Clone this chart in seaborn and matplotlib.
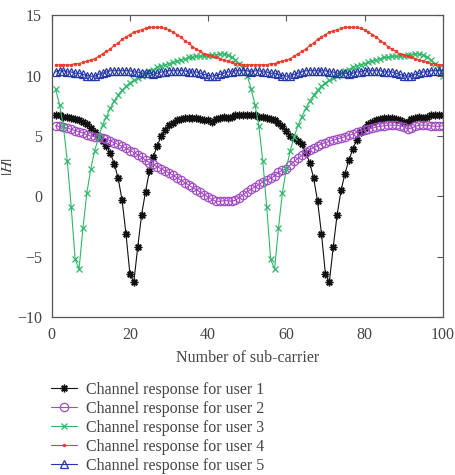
import numpy as np
import pandas as pd
import seaborn as sns
import matplotlib.pyplot as plt

# sub-carrier index 1..100
subcarrier = list(range(1, 101))

user1 = [6.7, 6.7, 6.6, 6.6, 6.5, 6.4, 6.3, 6.2, 6.0, 5.7,
         5.3, 4.9, 4.6, 4.2, 3.6, 2.7, 1.5, -0.3, -3.1, -6.4,
         -7.1, -4.2, -1.5, 0.4, 2.1, 3.3, 4.2, 5.0, 5.5, 5.9,
         6.1, 6.3, 6.4, 6.5, 6.5, 6.5, 6.5, 6.4, 6.3, 6.3,
         6.2, 6.4, 6.5, 6.6, 6.5, 6.6, 6.7, 6.7, 6.7, 6.7,
         6.7, 6.7, 6.6, 6.6, 6.5, 6.4, 6.3, 6.1, 5.8, 5.4,
         5.0, 4.8, 4.6, 4.3, 3.6, 2.8, 1.5, -0.4, -3.1, -6.4,
         -7.1, -4.2, -1.5, 0.5, 1.9, 3.0, 3.9, 4.7, 5.3, 5.7,
         6.0, 6.2, 6.3, 6.4, 6.5, 6.5, 6.5, 6.4, 6.3, 6.2,
         6.2, 6.4, 6.5, 6.6, 6.5, 6.6, 6.7, 6.7, 6.7, 6.7]

user2 = [5.85, 5.8, 5.75, 5.65, 5.55, 5.45, 5.35, 5.25, 5.1, 5.0,
         4.95, 4.9, 4.85, 4.75, 4.6, 4.45, 4.3, 4.15, 4.0, 3.8,
         3.65, 3.45, 3.25, 3.0, 2.8, 2.65, 2.45, 2.3, 2.1, 1.95,
         1.75, 1.55, 1.35, 1.15, 0.95, 0.75, 0.55, 0.35, 0.15, -0.05,
         -0.25, -0.4, -0.4, -0.35, -0.35, -0.4, -0.3, -0.1, 0.15, 0.4,
         0.6, 0.8, 1.0, 1.2, 1.35, 1.5, 1.7, 2.0, 2.15, 2.3,
         2.6, 2.9, 3.15, 3.4, 3.65, 3.85, 4.05, 4.2, 4.35, 4.45,
         4.55, 4.65, 4.75, 4.85, 4.95, 5.05, 5.15, 5.3, 5.4, 5.5,
         5.6, 5.65, 5.75, 5.8, 5.85, 5.9, 5.9, 5.9, 5.85, 5.75,
         5.6, 5.65, 5.8, 5.9, 5.9, 5.9, 5.85, 5.8, 5.8, 5.85]

user3 = [8.9, 7.6, 5.8, 2.9, -0.9, -5.2, -6.0, -2.6, 0.3, 2.3,
         3.8, 4.9, 5.9, 6.6, 7.3, 7.9, 8.4, 8.8, 9.1, 9.4,
         9.6, 9.8, 10.0, 10.2, 10.4, 10.5, 10.7, 10.8, 10.9, 11.0,
         11.1, 11.2, 11.3, 11.4, 11.5, 11.5, 11.6, 11.6, 11.6, 11.6,
         11.7, 11.7, 11.8, 11.8, 11.7, 11.5, 11.3, 11.0, 10.6, 10.0,
         8.9, 7.6, 5.8, 2.9, -0.9, -5.2, -6.0, -2.6, 0.3, 2.3,
         3.8, 4.9, 5.9, 6.6, 7.3, 7.9, 8.4, 8.8, 9.1, 9.4,
         9.6, 9.8, 10.0, 10.2, 10.4, 10.5, 10.7, 10.8, 10.9, 11.0,
         11.1, 11.2, 11.3, 11.4, 11.5, 11.5, 11.6, 11.6, 11.6, 11.6,
         11.7, 11.7, 11.8, 11.8, 11.7, 11.5, 11.3, 11.0, 10.6, 10.0]

user4 = [10.9, 10.9, 10.9, 10.9, 10.9, 11.0, 11.0, 11.1, 11.2, 11.3,
         11.4, 11.6, 11.8, 12.0, 12.2, 12.5, 12.7, 13.0, 13.2, 13.4,
         13.6, 13.7, 13.8, 13.9, 14.0, 14.0, 14.0, 14.0, 13.9, 13.8,
         13.6, 13.4, 13.2, 12.9, 12.7, 12.4, 12.2, 12.0, 11.8, 11.7,
         11.6, 11.5, 11.4, 11.3, 11.2, 11.1, 11.0, 11.0, 10.9, 10.9,
         10.9, 10.9, 10.9, 10.9, 10.9, 11.0, 11.0, 11.1, 11.2, 11.3,
         11.4, 11.6, 11.8, 12.0, 12.2, 12.5, 12.7, 13.0, 13.2, 13.4,
         13.6, 13.7, 13.8, 13.9, 14.0, 14.0, 14.0, 14.0, 13.9, 13.8,
         13.6, 13.4, 13.2, 12.9, 12.7, 12.4, 12.2, 12.0, 11.8, 11.7,
         11.6, 11.5, 11.4, 11.3, 11.2, 11.1, 11.0, 11.0, 10.9, 10.9]

user5 = [10.3, 10.4, 10.4, 10.3, 10.3, 10.2, 10.2, 10.1, 10.0, 9.95,
         9.95, 10.1, 10.2, 10.3, 10.4, 10.4, 10.4, 10.4, 10.4, 10.4,
         10.3, 10.3, 10.2, 10.2, 10.2, 10.1, 10.2, 10.3, 10.3, 10.4,
         10.4, 10.4, 10.4, 10.4, 10.3, 10.3, 10.3, 10.2, 10.1, 10.0,
         9.95, 10.0, 10.1, 10.2, 10.3, 10.3, 10.4, 10.4, 10.4, 10.4,
         10.3, 10.4, 10.4, 10.3, 10.3, 10.2, 10.2, 10.1, 10.0, 9.95,
         9.95, 10.1, 10.2, 10.3, 10.4, 10.4, 10.4, 10.4, 10.4, 10.4,
         10.3, 10.3, 10.2, 10.2, 10.2, 10.1, 10.2, 10.3, 10.3, 10.4,
         10.4, 10.4, 10.4, 10.4, 10.3, 10.3, 10.3, 10.2, 10.1, 10.0,
         9.95, 10.0, 10.1, 10.2, 10.3, 10.3, 10.4, 10.4, 10.4, 10.4]

labels = ["Channel response for user 1", "Channel response for user 2",
          "Channel response for user 3", "Channel response for user 4",
          "Channel response for user 5"]

series = [user1, user2, user3, user4, user5]
colors = ["#111111", "#a24bc4", "#2fb86a", "#ee3b2b", "#2536a8"]
styles = [
    dict(marker=(8, 2, 0), markersize=5.5, markeredgewidth=1.0),
    dict(marker="o", markersize=6, markerfacecolor="none", markeredgewidth=0.9),
    dict(marker="x", markersize=4.5, markeredgewidth=0.9),
    dict(marker=".", markersize=3.5),
    dict(marker="^", markersize=6, markerfacecolor="none", markeredgewidth=0.9),
]

sns.set_style("white")
plt.rcParams["font.family"] = ["Liberation Serif", "DejaVu Serif"]
plt.rcParams["mathtext.fontset"] = "stix"
txt = "#444444"
fs = 11.5

fig = plt.figure(figsize=(4.55, 4.75), dpi=100)
ax = fig.add_axes([0.1136, 0.332, 0.8594, 0.636])

for ys, lab, col, st in zip(series, labels, colors, styles):
    df = pd.DataFrame({"x": subcarrier, "y": ys})
    sns.lineplot(data=df, x="x", y="y", ax=ax, color=col, linewidth=0.8,
                 label=lab, markeredgecolor=col, **st)

ax.set_xlim(0, 100)
ax.set_ylim(-10, 15)
ax.set_xticks([0, 20, 40, 60, 80, 100])
ax.set_yticks([-10, -5, 0, 5, 10, 15])
ax.set_yticklabels(["\u221210", "\u22125", "0", "5", "10", "15"])
ax.tick_params(direction="in", length=4, width=0.8, colors="#555555",
               labelcolor=txt, labelsize=fs, top=True, right=True, pad=7)
for s in ax.spines.values():
    s.set_color("#555555")
    s.set_linewidth(0.9)

ax.set_xlabel("Number of sub-carrier", fontsize=fs, color=txt, labelpad=5)
ax.set_ylabel("$|H|$", fontsize=fs, color=txt)
ax.yaxis.set_label_coords(-0.09, 0.5)

ax.get_legend().remove()
handles, labs = ax.get_legend_handles_labels()
fig.legend(handles, labs, loc="upper left", bbox_to_anchor=(0.098, 0.21),
           frameon=False, fontsize=fs, labelcolor=txt, handlelength=1.6,
           handletextpad=0.6, labelspacing=0.19, borderaxespad=0)

fig.savefig("out.png", dpi=100)
